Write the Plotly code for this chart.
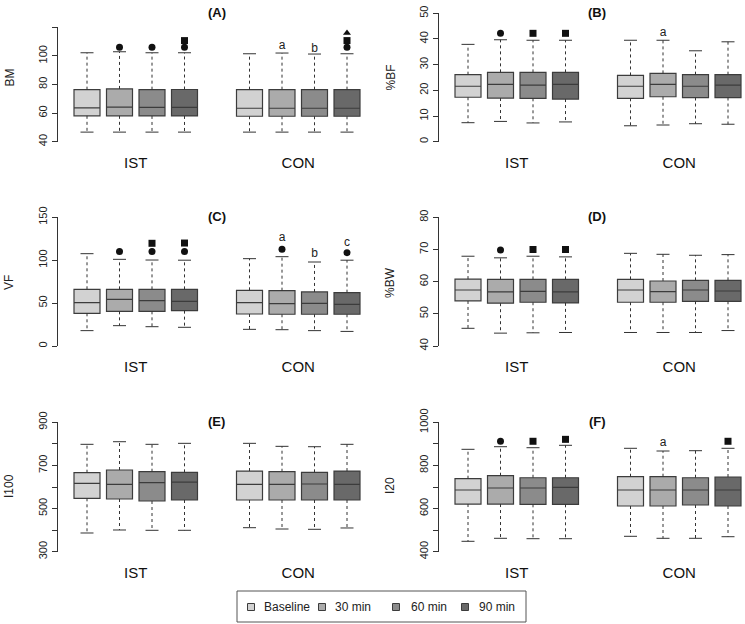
import plotly.graph_objects as go

W, H = 745, 624

# ---------------- categories ----------------
times = ["Baseline", "30 min", "60 min", "90 min"]
groups = ["IST", "CON"]
panel_titles = ["(A)", "(B)", "(C)", "(D)", "(E)", "(F)"]
y_labels = ["BM", "%BF", "VF", "%BW", "I100", "I20"]

# ---------------- box statistics (order: IST Baseline,30,60,90, CON Baseline,30,60,90) ----------------
BM_lower = [46.7, 46.7, 46.7, 46.7, 46.7, 46.7, 46.7, 46.7]
BM_q1 = [58.1, 58.1, 58.0, 58.0, 57.8, 57.8, 57.8, 57.8]
BM_median = [63.7, 64.2, 64.0, 64.0, 63.4, 63.4, 63.4, 63.4]
BM_q3 = [76.4, 76.9, 76.4, 76.5, 76.4, 76.4, 76.4, 76.4]
BM_upper = [102.2, 102.9, 102.2, 102.2, 101.5, 102.0, 101.3, 101.5]

BF_lower = [7.4, 7.9, 7.3, 7.7, 6.2, 6.5, 7.0, 6.8]
BF_q1 = [17.3, 17.0, 16.9, 16.6, 16.9, 17.5, 17.2, 17.2]
BF_median = [21.6, 22.3, 22.0, 22.3, 21.6, 22.3, 21.6, 22.0]
BF_q3 = [26.1, 27.0, 27.0, 27.0, 25.8, 26.6, 26.1, 26.1]
BF_upper = [37.9, 39.7, 39.5, 39.5, 39.5, 39.5, 35.4, 38.9]

VF_lower = [17.9, 23.7, 22.5, 21.8, 19.4, 19.0, 17.9, 17.0]
VF_q1 = [38.1, 40.4, 40.4, 41.2, 37.3, 37.0, 37.0, 37.0]
VF_median = [50.5, 54.4, 52.8, 52.0, 50.5, 49.3, 49.7, 48.6]
VF_q3 = [66.1, 66.0, 66.0, 66.0, 64.9, 64.5, 63.0, 62.2]
VF_upper = [107.6, 101.0, 100.2, 100.0, 101.8, 104.1, 97.9, 100.0]

BW_lower = [45.5, 44.0, 44.1, 44.2, 44.2, 44.2, 44.2, 44.8]
BW_q1 = [54.0, 53.3, 53.6, 53.4, 53.6, 53.6, 53.9, 53.9]
BW_median = [57.4, 56.8, 57.0, 56.8, 57.4, 56.9, 57.4, 57.1]
BW_q3 = [60.8, 60.7, 60.7, 60.7, 60.7, 60.2, 60.4, 60.4]
BW_upper = [67.9, 67.4, 67.9, 67.7, 68.8, 68.5, 68.2, 68.4]

I100_lower = [386.7, 400.6, 399.2, 399.2, 411.3, 405.2, 403.8, 410.0]
I100_q1 = [547.6, 544.3, 535.0, 539.7, 539.7, 539.7, 539.7, 539.7]
I100_median = [617.1, 612.5, 619.9, 623.0, 612.5, 612.5, 613.9, 612.5]
I100_q3 = [666.3, 678.8, 670.9, 668.0, 674.0, 670.9, 668.0, 674.0]
I100_upper = [797.9, 810.0, 797.9, 802.5, 802.5, 788.6, 786.8, 797.9]

I20_lower = [448.2, 462.1, 460.3, 460.3, 471.4, 462.1, 462.1, 469.5]
I20_q1 = [621.0, 621.0, 619.7, 619.7, 611.9, 611.9, 616.5, 611.9]
I20_median = [686.0, 695.3, 695.3, 698.6, 686.0, 686.0, 686.0, 686.0]
I20_q3 = [738.4, 752.3, 743.0, 743.0, 747.7, 747.7, 743.0, 746.3]
I20_upper = [874.7, 886.8, 882.2, 893.3, 879.4, 866.9, 868.3, 879.4]

# ---------------- y-axis ticks ----------------
A_ticks = [40, 60, 80, 100, 120]
A_ticktext = ["40", "60", "80", "100", ""]
B_ticks = [0, 10, 20, 30, 40, 50]
B_ticktext = ["0", "10", "20", "30", "40", "50"]
C_ticks = [0, 50, 100, 150]
C_ticktext = ["0", "50", "100", "150"]
D_ticks = [40, 50, 60, 70, 80]
D_ticktext = ["40", "50", "60", "70", "80"]
E_ticks = [300, 400, 500, 600, 700, 800, 900]
E_ticktext = ["300", "", "500", "", "700", "", "900"]
F_ticks = [400, 500, 600, 700, 800, 900, 1000]
F_ticktext = ["400", "", "600", "", "800", "", "1000"]

# ---------------- significance symbols above boxes ----------------
mark_panel = [0, 0, 0, 0, 0, 0, 0,
              1, 1, 1,
              2, 2, 2, 2, 2, 2, 2,
              3, 3, 3,
              5, 5, 5, 5]
mark_group = [0, 0, 0, 0, 1, 1, 1,
              0, 0, 0,
              0, 0, 0, 0, 0, 1, 1,
              0, 0, 0,
              0, 0, 0, 1]
mark_time = [1, 2, 3, 3, 3, 3, 3,
             1, 2, 3,
             1, 2, 2, 3, 3, 1, 3,
             1, 2, 3,
             1, 2, 3, 3]
mark_symbol = ["circle", "circle", "circle", "square", "circle", "square", "triangle-up",
               "circle", "square", "square",
               "circle", "circle", "square", "circle", "square", "circle", "circle",
               "circle", "square", "square",
               "circle", "square", "square", "square"]
mark_value = [106, 106, 106, 110.7, 106, 110.7, 116,
              42.2, 42.2, 42.2,
              110, 110, 119.7, 110, 120, 112.7, 108.8,
              69.8, 70, 70,
              911.8, 912, 921, 912]

letter_panel = [0, 0, 0, 1, 2, 2, 2, 5]
letter_group = [1, 1, 1, 1, 1, 1, 1, 1]
letter_time = [1, 2, 3, 1, 1, 2, 3, 1]
letter_text = ["a", "b", "c", "a", "a", "b", "c", "a"]
letter_value = [107, 105, 122.8, 42.2, 125.5, 107.2, 120.4, 902.5]

# ---------------- styling / layout (pixels) ----------------
FONT = "Liberation Sans, Arial, Helvetica, sans-serif"
fill_colors = ["#d2d2d2", "#ababab", "#8b8b8b", "#696969"]
edge_color = "#3c3c3c"
X_RANGE = [0.1, 9.5]
col_x = [(57.75, 363.25), (438.75, 744.25)]
panel_ypix = [(141.7, 27.3), (141.7, 13.3), (346.0, 217.3), (346.0, 217.3), (551.7, 422.3), (551.7, 422.3)]
panel_yrange = [[40, 120], [0, 50], [0, 150], [40, 80], [300, 900], [400, 1000]]
ylab_ypix = [77.5, 77.5, 283, 283, 486, 486]
title_ypix = [12, 12, 216, 216, 421, 421]
col_center = [217, 597]
ylab_xpix = [9, 390]
# legend box (pixels)
leg_box = (237, 591, 526, 622)
leg_key_x = [251, 322, 396, 465]
leg_text_x = [262, 333, 409, 477]
leg_y = 607
leg_key_half = 3.5


def px_x(px):
    return px / W


def px_y(py):
    return 1 - py / H


stats = [
    (BM_lower, BM_q1, BM_median, BM_q3, BM_upper, A_ticks, A_ticktext),
    (BF_lower, BF_q1, BF_median, BF_q3, BF_upper, B_ticks, B_ticktext),
    (VF_lower, VF_q1, VF_median, VF_q3, VF_upper, C_ticks, C_ticktext),
    (BW_lower, BW_q1, BW_median, BW_q3, BW_upper, D_ticks, D_ticktext),
    (I100_lower, I100_q1, I100_median, I100_q3, I100_upper, E_ticks, E_ticktext),
    (I20_lower, I20_q1, I20_median, I20_q3, I20_upper, F_ticks, F_ticktext),
]


def position(g, t):
    return g * 5 + t + 1


fig = go.Figure()
layout = dict()
annotations = []
shapes = []

for p, (lo, q1, med, q3, up, tv, tt) in enumerate(stats):
    ax = "" if p == 0 else str(p + 1)
    xref, yref = "x" + ax, "y" + ax
    col = p % 2
    # boxes
    for t in range(4):
        idx = [t, 4 + t]
        xs = [position(g, t) for g in range(2)]
        fig.add_trace(go.Box(
            x=xs, q1=[q1[i] for i in idx], median=[med[i] for i in idx], q3=[q3[i] for i in idx],
            lowerfence=[q1[i] for i in idx], upperfence=[q3[i] for i in idx],
            width=0.8, whiskerwidth=0, fillcolor=fill_colors[t],
            line=dict(color=edge_color, width=1.2), boxpoints=False,
            name=times[t], legendgroup=times[t], showlegend=False,
            xaxis=xref, yaxis=yref, hoverinfo="skip"))
    # dashed whiskers and solid staples
    wx, wy, cx, cy = [], [], [], []
    for g in range(2):
        for t in range(4):
            i = g * 4 + t
            xp = position(g, t)
            wx += [xp, xp, None, xp, xp, None]
            wy += [q3[i], up[i], None, q1[i], lo[i], None]
            cx += [xp - 0.2, xp + 0.2, None, xp - 0.2, xp + 0.2, None]
            cy += [up[i], up[i], None, lo[i], lo[i], None]
    fig.add_trace(go.Scatter(x=wx, y=wy, mode="lines", line=dict(color="#333333", width=1, dash="3px,3px"),
                             showlegend=False, hoverinfo="skip", xaxis=xref, yaxis=yref))
    fig.add_trace(go.Scatter(x=cx, y=cy, mode="lines", line=dict(color="#333333", width=1),
                             showlegend=False, hoverinfo="skip", xaxis=xref, yaxis=yref))
    # significance symbols
    mi = [k for k in range(len(mark_panel)) if mark_panel[k] == p]
    if mi:
        fig.add_trace(go.Scatter(
            x=[position(mark_group[k], mark_time[k]) for k in mi],
            y=[mark_value[k] for k in mi], mode="markers",
            marker=dict(symbol=[mark_symbol[k] for k in mi], size=7, color="#111111"),
            cliponaxis=False, showlegend=False, hoverinfo="skip", xaxis=xref, yaxis=yref))
    li = [k for k in range(len(letter_panel)) if letter_panel[k] == p]
    if li:
        fig.add_trace(go.Scatter(
            x=[position(letter_group[k], letter_time[k]) for k in li],
            y=[letter_value[k] for k in li], mode="text",
            text=[letter_text[k] for k in li], textfont=dict(size=12, color="#222222", family=FONT),
            cliponaxis=False, showlegend=False, hoverinfo="skip", xaxis=xref, yaxis=yref))

    x0, x1 = col_x[col]
    yb, yt = panel_ypix[p]
    layout["xaxis" + ax] = dict(
        domain=[px_x(x0), min(1.0, px_x(x1))], range=X_RANGE, anchor=yref, automargin=False,
        showline=False, showgrid=False, zeroline=False, ticks="",
        tickvals=[2.5, 7.5], ticktext=groups, ticklabelstandoff=10,
        tickfont=dict(size=15, color="#111111", family=FONT))
    layout["yaxis" + ax] = dict(
        domain=[px_y(yb), px_y(yt)], range=panel_yrange[p], anchor=xref, automargin=False,
        showline=True, linecolor="#333333", linewidth=1, showgrid=False, zeroline=False,
        ticks="outside", ticklen=5, tickcolor="#333333", tickwidth=1,
        tickvals=tv, ticktext=tt, tickangle=-90,
        tickfont=dict(size=11, color="#222222", family=FONT))
    annotations.append(dict(text="<b>%s</b>" % panel_titles[p], xref="paper", yref="paper",
                            x=px_x(col_center[col]), y=px_y(title_ypix[p]), showarrow=False,
                            xanchor="center", yanchor="middle", font=dict(size=13, color="#111111", family=FONT)))
    annotations.append(dict(text=y_labels[p], xref="paper", yref="paper",
                            x=px_x(ylab_xpix[col]), y=px_y(ylab_ypix[p]), showarrow=False, textangle=-90,
                            xanchor="center", yanchor="middle", font=dict(size=12, color="#222222", family=FONT)))

# legend drawn as a framed key
shapes.append(dict(type="rect", xref="paper", yref="paper",
                   x0=px_x(leg_box[0]), x1=px_x(leg_box[2]), y0=px_y(leg_box[3]), y1=px_y(leg_box[1]),
                   line=dict(color="#555555", width=1), fillcolor="white", layer="below"))
for t in range(4):
    shapes.append(dict(type="rect", xref="paper", yref="paper",
                       x0=px_x(leg_key_x[t] - leg_key_half), x1=px_x(leg_key_x[t] + leg_key_half),
                       y0=px_y(leg_y + leg_key_half), y1=px_y(leg_y - leg_key_half),
                       line=dict(color=edge_color, width=1), fillcolor=fill_colors[t]))
    annotations.append(dict(text=times[t], xref="paper", yref="paper", x=px_x(leg_text_x[t]), y=px_y(leg_y),
                            xanchor="left", yanchor="middle", showarrow=False,
                            font=dict(size=12, color="#222222", family=FONT)))

fig.update_layout(
    width=W, height=H, margin=dict(l=0, r=0, t=0, b=0, autoexpand=False),
    paper_bgcolor="white", plot_bgcolor="white",
    font=dict(family=FONT, color="#222222"),
    annotations=annotations, shapes=shapes, showlegend=False,
    **layout)

# remove the default page margin so the 745x624 figure fills the window exactly
fig.write_html("out.html", config={"displayModeBar": False},
               post_script="document.body.style.margin='0px';")
